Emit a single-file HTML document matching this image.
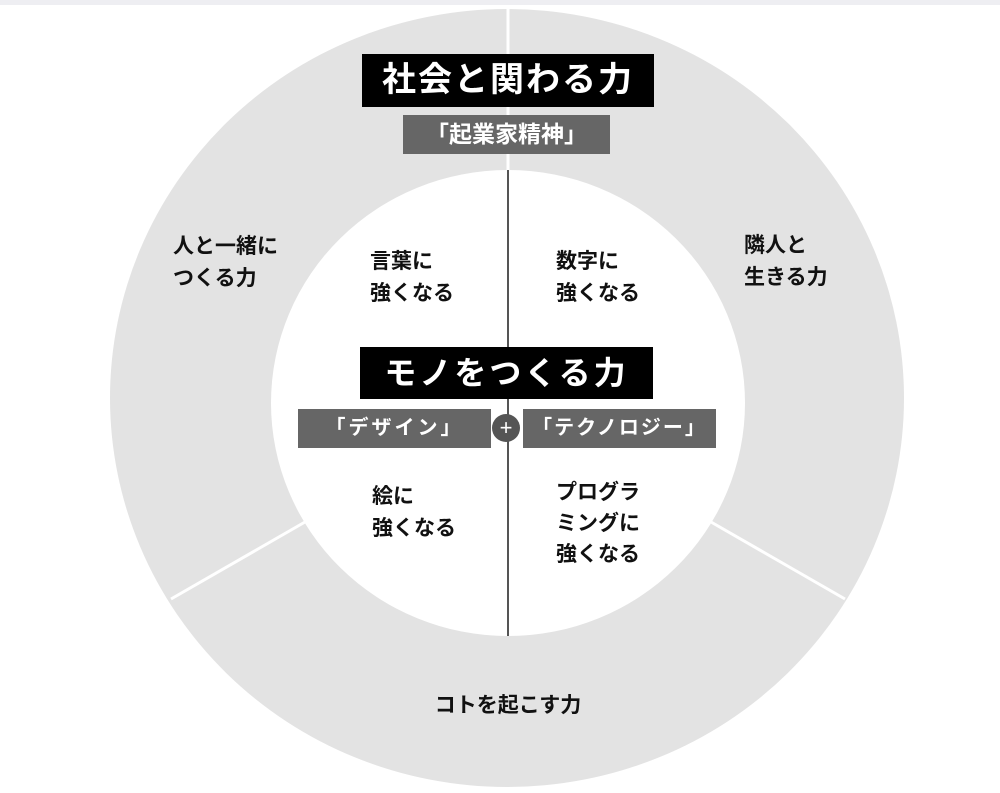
<!DOCTYPE html>
<html><head><meta charset="utf-8"><style>
body{margin:0;width:1000px;height:793px;overflow:hidden;background:#fff;font-family:"Liberation Sans","Noto Sans CJK JP",sans-serif;}
svg{position:absolute;left:0;top:0}
.t{position:absolute;font-size:21px;font-weight:bold;color:#111;line-height:32px;white-space:nowrap}
.box{position:absolute;color:#fff;font-weight:bold;text-align:center;white-space:nowrap}
</style></head><body>
<svg width="1000" height="793">
<rect x="0" y="0" width="1000" height="5" fill="#eeeef2"/>
<ellipse cx="507" cy="398" rx="397" ry="389" fill="#e3e3e3"/>
<line x1="508" y1="8" x2="508" y2="172" stroke="#fff" stroke-width="3"/>
<line x1="305" y1="522" x2="171" y2="599" stroke="#fff" stroke-width="3"/>
<line x1="711" y1="522" x2="845" y2="599" stroke="#fff" stroke-width="3"/>
<ellipse cx="508" cy="403" rx="237" ry="233" fill="#fff"/>
<line x1="508" y1="170" x2="508" y2="636" stroke="#555" stroke-width="2"/>
</svg>
<div class="box" style="left:362px;top:54px;width:292px;height:53px;background:#000;font-size:34px;line-height:53px;letter-spacing:2px">社会と関わる力</div>
<div class="box" style="left:403px;top:115px;width:207px;height:39px;background:#666;font-size:23px;line-height:39px">「起業家精神」</div>
<div class="box" style="left:360px;top:347px;width:293px;height:52px;background:#000;font-size:32px;line-height:52px;letter-spacing:3px">モノをつくる力</div>
<div class="box" style="left:298px;top:409px;width:193px;height:39px;background:#666;font-size:20px;line-height:39px;letter-spacing:3px">「デザイン」</div>
<div class="box" style="left:523px;top:409px;width:193px;height:39px;background:#666;font-size:20px;line-height:39px;letter-spacing:2px">「テクノロジー」</div>
<div class="box" style="left:492px;top:414px;width:28px;height:28px;border-radius:50%;background:#555;font-size:22px;line-height:27px;font-weight:normal">+</div>
<div class="t" style="left:173px;top:231px">人と一緒に<br>つくる力</div>
<div class="t" style="left:744px;top:230px">隣人と<br>生きる力</div>
<div class="t" style="left:370px;top:246px">言葉に<br>強くなる</div>
<div class="t" style="left:556px;top:246px">数字に<br>強くなる</div>
<div class="t" style="left:372px;top:481px">絵に<br>強くなる</div>
<div class="t" style="left:556px;top:477px;line-height:31px">プログラ<br>ミングに<br>強くなる</div>
<div class="t" style="left:408px;top:690px;width:200px;text-align:center">コトを起こす力</div>
</body></html>
